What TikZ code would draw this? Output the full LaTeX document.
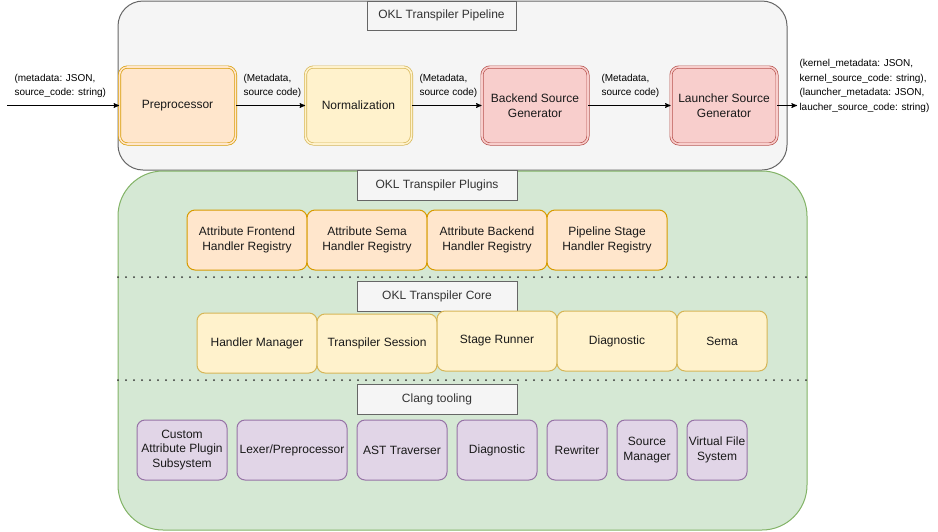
\documentclass[tikz,border=0pt]{standalone}
\usepackage{fontspec}
\setmainfont{Liberation Sans}
\usepackage{tikz}
\usetikzlibrary{shapes}
\usetikzlibrary{arrows}
\usetikzlibrary{positioning}
\definecolor{pipefill}{HTML}{F5F5F5}
\definecolor{pipedraw}{HTML}{666666}
\definecolor{greenfill}{HTML}{D5E8D4}
\definecolor{greendraw}{HTML}{82B366}
\definecolor{orangefill}{HTML}{FFE6CC}
\definecolor{orangedraw}{HTML}{D79B00}
\definecolor{yellowfill}{HTML}{FFF2CC}
\definecolor{yellowdraw}{HTML}{D6B656}
\definecolor{redfill}{HTML}{F8CECC}
\definecolor{reddraw}{HTML}{B85450}
\definecolor{purplefill}{HTML}{E1D5E7}
\definecolor{purpledraw}{HTML}{9673A6}
\newcommand \boxfont {\fontsize{12}{14.5}\selectfont}
\newcommand \lblfont {\fontsize{10}{14.5}\selectfont}
\tikzstyle{block}=[rectangle,rounded corners=8pt,align=center,inner sep=0mm,font=\boxfont,text=black!90]
\tikzstyle{stage}=[block,double distance=1.6pt,line width=0.7,minimum height=77]
\tikzstyle{plugin}=[block,draw=orangedraw,fill=orangefill,minimum width=120,minimum height=60]
\tikzstyle{core}=[block,draw=yellowdraw,fill=yellowfill,minimum height=60]
\tikzstyle{clang}=[block,draw=purpledraw,fill=purplefill,minimum height=60]
\tikzstyle{title}=[rectangle,draw=pipedraw,fill=pipefill,text=black!80,font=\boxfont,inner sep=0mm,minimum width=160,minimum height=30]
\tikzstyle{lbl}=[anchor=west,align=left,inner sep=0mm,font=\lblfont]
\tikzstyle{arrow}=[->,>=stealth']
\tikzstyle{sep}=[line width=2,dash pattern=on 0pt off 8pt,line cap=round,draw=black!80]
\tikzset{every picture/.style={
    line width=1, x=1pt, y=-1pt
  }
}

\begin{document}
\begin{tikzpicture}
        \useasboundingbox (0,0) rectangle (938,531);
        % containers
        \node[rectangle,rounded corners=25pt,draw=pipedraw,fill=pipefill,minimum width=669,minimum height=169] at (452.5,85.5) (pipe) {};
        \node[rectangle,rounded corners=45pt,draw=greendraw,fill=greenfill,minimum width=689,minimum height=359] at (462.5,350.5) (plug) {};
        \node[title,minimum width=149,minimum height=29] at (441.5,15.5) (tpipe) {OKL Transpiler Pipeline};
        % pipeline stages
        \node[stage,draw=orangedraw,fill=orangefill,double=orangefill,minimum width=116] at (177.5,105.5) (pre) {Preprocessor};
        \node[stage,draw=yellowdraw,fill=yellowfill,double=yellowfill,minimum width=106] at (358.5,105.5) (norm) {Normalization};
        \node[stage,draw=reddraw,fill=redfill,double=redfill,minimum width=106] at (535,105.5) (back) {Backend Source\\Generator};
        \node[stage,draw=reddraw,fill=redfill,double=redfill,minimum width=106] at (724,105.5) (launch) {Launcher Source\\Generator};
        \coordinate (in) at (7,105.5);
        \coordinate (out) at (797,105.5);
        \draw[arrow] (in) to (pre);
        \draw[arrow] (pre) to (norm);
        \draw[arrow] (norm) to (back);
        \draw[arrow] (back) to (launch);
        \draw[arrow] (launch) to (out);
        \node[lbl] at (14,86) (lin) {(metadata: JSON,\\source\_code: string)};
        \node[lbl] at (243,86) (l1) {(Metadata,\\source code)};
        \node[lbl] at (419,86) (l2) {(Metadata,\\source code)};
        \node[lbl] at (601,86) (l3) {(Metadata,\\source code)};
        \node[lbl] at (799,86) (lout) {(kernel\_metadata: JSON,\\kernel\_source\_code: string),\\(launcher\_metadata: JSON,\\laucher\_source\_code: string)};
        % plugins
        \node[title] at (437,185) (tplug) {OKL Transpiler Plugins};
        \node[plugin] at (247,240) (afh) {Attribute Frontend\\Handler Registry};
        \node[plugin] at (367,240) (ash) {Attribute Sema\\Handler Registry};
        \node[plugin] at (487,240) (abh) {Attribute Backend\\Handler Registry};
        \node[plugin] at (607,240) (psh) {Pipeline Stage\\Handler Registry};
        \coordinate (s1a) at (118,277);
        \coordinate (s1b) at (807,277);
        \draw[sep] (s1a) -- (s1b);
        % core
        \node[title] at (437,296) (tcore) {OKL Transpiler Core};
        \node[core,minimum width=120] at (257,343) (hm) {Handler Manager};
        \node[core,minimum width=120,minimum height=59] at (377,343.5) (ts) {Transpiler Session};
        \node[core,minimum width=120] at (497,341) (sr) {Stage Runner};
        \node[core,minimum width=120] at (617,341) (diag) {Diagnostic};
        \node[core,minimum width=90] at (722,341) (sema) {Sema};
        \coordinate (s2a) at (118,380);
        \coordinate (s2b) at (807,380);
        \draw[sep] (s2a) -- (s2b);
        % clang tooling
        \node[title] at (437,399) (tclang) {Clang tooling};
        \node[clang,minimum width=90] at (182,450) (caps) {Custom\\Attribute Plugin\\Subsystem};
        \node[clang,minimum width=110] at (292,450) (lex) {Lexer/Preprocessor};
        \node[clang,minimum width=90] at (402,450) (ast) {AST Traverser};
        \node[clang,minimum width=80] at (497,450) (cdiag) {Diagnostic};
        \node[clang,minimum width=60] at (577,450) (rw) {Rewriter};
        \node[clang,minimum width=60] at (647,450) (sm) {Source\\Manager};
        \node[clang,minimum width=60] at (717,450) (vfs) {Virtual File\\System};
      \end{tikzpicture}
\end{document}
